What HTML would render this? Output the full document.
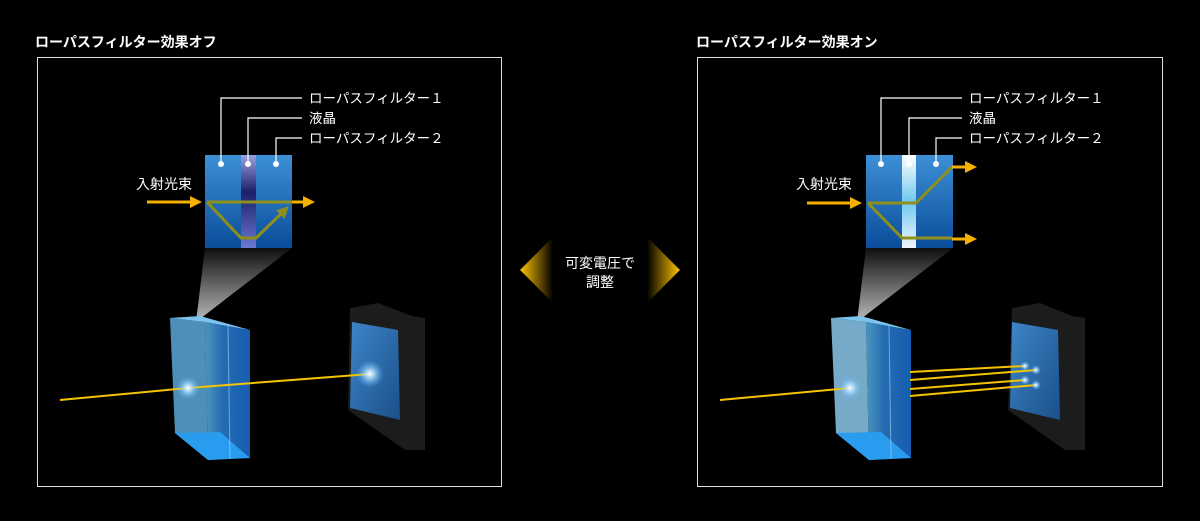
<!DOCTYPE html>
<html><head><meta charset="utf-8"><style>
html,body{margin:0;padding:0;background:#000;}
svg{display:block;font-family:"Liberation Sans","Noto Sans CJK JP",sans-serif;}
</style></head><body>
<svg width="1200" height="521" viewBox="0 0 1200 521" xmlns="http://www.w3.org/2000/svg">
<defs>
<linearGradient id="sq" x1="0" y1="0" x2="0" y2="1"><stop offset="0" stop-color="#3d8fd6"/><stop offset="1" stop-color="#0a4d9a"/></linearGradient>
<linearGradient id="lc" x1="0" y1="0" x2="0" y2="1"><stop offset="0" stop-color="#9aa0e0"/><stop offset="0.4" stop-color="#1a1f6a"/><stop offset="1" stop-color="#6a78d0"/></linearGradient>
<linearGradient id="lc2" x1="0" y1="0" x2="0" y2="1"><stop offset="0" stop-color="#ffffff"/><stop offset="0.5" stop-color="#6fc8f0"/><stop offset="1" stop-color="#f0f4ff"/></linearGradient>
<linearGradient id="cone" x1="0" y1="0" x2="0" y2="1"><stop offset="0" stop-color="#111"/><stop offset="1" stop-color="#ddd"/></linearGradient>
<linearGradient id="al" x1="0" y1="0" x2="1" y2="0"><stop offset="0" stop-color="#ffc400"/><stop offset="1" stop-color="#000"/></linearGradient>
<linearGradient id="ar" x1="1" y1="0" x2="0" y2="0"><stop offset="0" stop-color="#ffc400"/><stop offset="1" stop-color="#000"/></linearGradient>
<linearGradient id="pf" x1="0" y1="0" x2="1" y2="0"><stop offset="0" stop-color="#5ab0e0"/><stop offset="0.4" stop-color="#2a7fd0"/><stop offset="1" stop-color="#1a6ed0"/></linearGradient>
<linearGradient id="scr" x1="0" y1="0" x2="1" y2="1"><stop offset="0" stop-color="#3d86c8"/><stop offset="1" stop-color="#1b4f8a"/></linearGradient>
<radialGradient id="glow"><stop offset="0" stop-color="#fff"/><stop offset="0.3" stop-color="#bfe6ff" stop-opacity="0.8"/><stop offset="1" stop-color="#4ab0ff" stop-opacity="0"/></radialGradient>
<marker id="ah" markerWidth="12" markerHeight="12" refX="9" refY="6" orient="auto" markerUnits="userSpaceOnUse"><path d="M0,0 L12,6 L0,12 Z" fill="#f5b000"/></marker>
<marker id="ao" markerWidth="12" markerHeight="12" refX="8" refY="6" orient="auto" markerUnits="userSpaceOnUse"><path d="M0,0 L12,6 L0,12 Z" fill="#8f8f1c"/></marker>
</defs>

<text x="35" y="47" fill="#fff" font-size="14" font-weight="bold">ローパスフィルター効果オフ</text>
<text x="696" y="47" fill="#fff" font-size="14" font-weight="bold">ローパスフィルター効果オン</text>
<rect x="37.5" y="57.5" width="464" height="429" fill="none" stroke="#ddd" stroke-width="1"/>
<rect x="697.5" y="57.5" width="465" height="429" fill="none" stroke="#ddd" stroke-width="1"/>

<polygon points="520,270 553,237 553,303" fill="url(#al)"/>
<polygon points="680,270 647,237 647,303" fill="url(#ar)"/>
<text x="600" y="268" fill="#fff" font-size="14" text-anchor="middle">可変電圧で</text>
<text x="600" y="287" fill="#fff" font-size="14" text-anchor="middle">調整</text>

<!-- LEFT -->
<g>
<polygon points="205,248 292,248 196,322" fill="url(#cone)" opacity="0.85"/>
<rect x="205" y="155" width="87" height="93" fill="url(#sq)"/>
<rect x="241" y="155" width="15" height="93" fill="url(#lc)"/>
<g stroke="#fff" stroke-width="1.2" fill="none">
<polyline points="221,164 221,98 302,98"/><polyline points="248,164 248,118 302,118"/><polyline points="276,164 276,138 302,138"/>
</g>
<circle cx="221" cy="164" r="3" fill="#fff"/><circle cx="248" cy="164" r="3" fill="#fff"/><circle cx="276" cy="164" r="3" fill="#fff"/>
<g fill="#fff" font-size="13.5"><text x="309" y="103">ローパスフィルター１</text><text x="309" y="123">液晶</text><text x="309" y="143">ローパスフィルター２</text><text x="136" y="189" font-size="14">入射光束</text></g>
<line x1="147" y1="202" x2="199" y2="202" stroke="#f5b000" stroke-width="3" marker-end="url(#ah)"/>
<line x1="292" y1="202" x2="312" y2="202" stroke="#f5b000" stroke-width="3" marker-end="url(#ah)"/>
<line x1="207" y1="202" x2="292" y2="202" stroke="#8f8f1c" stroke-width="3"/>
<polyline points="207,202 241,238 256,238 286,209" fill="none" stroke="#8f8f1c" stroke-width="3" marker-end="url(#ao)"/>
<polygon points="170,318 205,322 208,460 175,433" fill="#5aa8d8" opacity="0.85"/>
<polygon points="205,322 250,330 250,458 208,460" fill="url(#pf)" opacity="0.85"/>
<polygon points="170,318 200,316 250,330 205,322" fill="#7cc4ee"/>
<polygon points="175,433 208,460 250,458 220,432" fill="#2a9cf0"/>
<line x1="228" y1="326" x2="230" y2="459" stroke="#a8d4f4" stroke-width="1" opacity="0.6"/>
<polygon points="350,308 378,303 412,316 425,318 425,450 405,450 348,410" fill="#1c1c1c"/>
<polygon points="352,322 398,330 400,420 350,408" fill="url(#scr)"/>
<line x1="60" y1="400" x2="188" y2="388" stroke="#f5c400" stroke-width="2"/>
<line x1="188" y1="388" x2="370" y2="374" stroke="#f5c400" stroke-width="2"/>
<circle cx="188" cy="388" r="12" fill="url(#glow)"/>
<circle cx="370" cy="374" r="14" fill="url(#glow)"/>
</g>

<!-- RIGHT -->
<g>
<polygon points="866,248 953,248 857,322" fill="url(#cone)" opacity="0.85"/>
<rect x="866" y="155" width="87" height="93" fill="url(#sq)"/>
<rect x="902" y="155" width="14" height="93" fill="url(#lc2)"/>
<g stroke="#fff" stroke-width="1.2" fill="none">
<polyline points="881,164 881,98 962,98"/><polyline points="909,164 909,118 962,118"/><polyline points="936,164 936,138 962,138"/>
</g>
<circle cx="881" cy="164" r="3" fill="#fff"/><circle cx="909" cy="164" r="3" fill="#fff"/><circle cx="936" cy="164" r="3" fill="#fff"/>
<g fill="#fff" font-size="13.5"><text x="969" y="103">ローパスフィルター１</text><text x="969" y="123">液晶</text><text x="969" y="143">ローパスフィルター２</text><text x="796" y="189" font-size="14">入射光束</text></g>
<line x1="807" y1="203" x2="859" y2="203" stroke="#f5b000" stroke-width="3" marker-end="url(#ah)"/>
<polyline points="868,203 916,203 952,167" fill="none" stroke="#8f8f1c" stroke-width="3"/>
<polyline points="868,203 902,238 952,238" fill="none" stroke="#8f8f1c" stroke-width="3"/>
<line x1="952" y1="167" x2="974" y2="167" stroke="#f5b000" stroke-width="3" marker-end="url(#ah)"/>
<line x1="952" y1="239" x2="974" y2="239" stroke="#f5b000" stroke-width="3" marker-end="url(#ah)"/>
<polygon points="831,318 866,322 869,460 836,433" fill="#8cc8ec" opacity="0.85"/>
<polygon points="866,322 911,330 911,458 869,460" fill="url(#pf)" opacity="0.85"/>
<polygon points="831,318 861,316 911,330 866,322" fill="#7cc4ee"/>
<polygon points="836,433 869,460 911,458 881,432" fill="#2a9cf0"/>
<line x1="889" y1="326" x2="891" y2="459" stroke="#a8d4f4" stroke-width="1" opacity="0.6"/>
<polygon points="1012,308 1040,303 1072,316 1085,318 1085,450 1065,450 1008,410" fill="#1c1c1c"/>
<polygon points="1012,322 1058,330 1060,420 1010,408" fill="url(#scr)"/>
<line x1="720" y1="400" x2="850" y2="388" stroke="#f5c400" stroke-width="2"/>
<g stroke="#f5c400" stroke-width="2">
<line x1="910" y1="372" x2="1025" y2="366"/><line x1="910" y1="380" x2="1036" y2="370"/>
<line x1="910" y1="389" x2="1025" y2="380"/><line x1="910" y1="396" x2="1036" y2="385"/>
</g>
<circle cx="850" cy="388" r="12" fill="url(#glow)"/>
<circle cx="1025" cy="366" r="5" fill="url(#glow)"/><circle cx="1036" cy="370" r="5" fill="url(#glow)"/>
<circle cx="1025" cy="380" r="5" fill="url(#glow)"/><circle cx="1036" cy="385" r="5" fill="url(#glow)"/>
</g>
</svg>
</body></html>
